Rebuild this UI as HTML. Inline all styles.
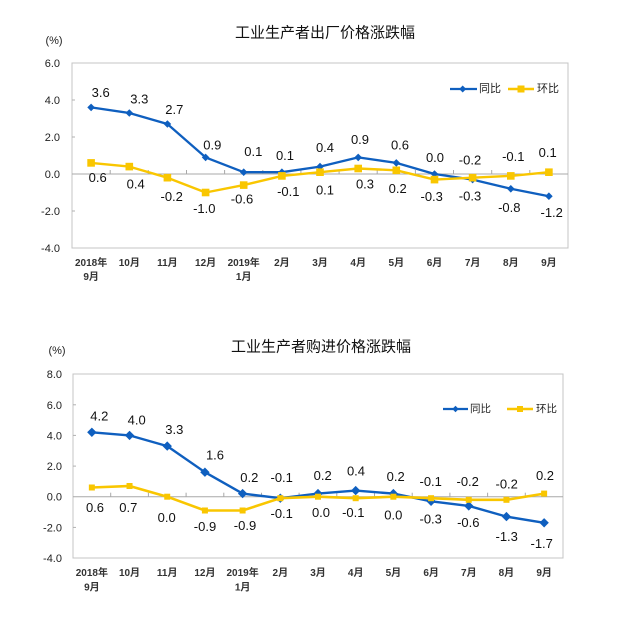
<!DOCTYPE html>
<html>
<head>
<meta charset="utf-8">
<style>
html,body{margin:0;padding:0;background:#fff;}
svg{display:block;}
.t{font-family:"Liberation Sans","Noto Sans CJK SC",sans-serif;}
</style>
</head>
<body>
<svg width="617" height="620" viewBox="0 0 617 620" xmlns="http://www.w3.org/2000/svg">
<rect width="617" height="620" fill="#fff"/>

<!-- ================= TOP CHART ================= -->
<text class="t" x="325" y="33" font-size="15" text-anchor="middle" dominant-baseline="central" fill="#111">工业生产者出厂价格涨跌幅</text>
<text class="t" x="54" y="41" font-size="11" text-anchor="middle" dominant-baseline="central" fill="#222">(%)</text>

<rect x="72" y="63" width="496" height="185" fill="none" stroke="#c4c4c4" stroke-width="1"/>
<!-- y ticks -->
<g stroke="#b0b0b0" stroke-width="1">
<line x1="72" y1="100" x2="75" y2="100"/>
<line x1="72" y1="137" x2="75" y2="137"/>
<line x1="72" y1="211" x2="75" y2="211"/>
</g>
<!-- zero line -->
<line x1="72" y1="174" x2="568" y2="174" stroke="#a8a8a8" stroke-width="1"/>
<g stroke="#a8a8a8" stroke-width="1">
<line x1="110.2" y1="170" x2="110.2" y2="174"/>
<line x1="148.3" y1="170" x2="148.3" y2="174"/>
<line x1="186.5" y1="170" x2="186.5" y2="174"/>
<line x1="224.6" y1="170" x2="224.6" y2="174"/>
<line x1="262.8" y1="170" x2="262.8" y2="174"/>
<line x1="300.9" y1="170" x2="300.9" y2="174"/>
<line x1="339.1" y1="170" x2="339.1" y2="174"/>
<line x1="377.2" y1="170" x2="377.2" y2="174"/>
<line x1="415.4" y1="170" x2="415.4" y2="174"/>
<line x1="453.5" y1="170" x2="453.5" y2="174"/>
<line x1="491.7" y1="170" x2="491.7" y2="174"/>
<line x1="529.8" y1="170" x2="529.8" y2="174"/>
</g>
<!-- y labels -->
<g class="t" font-size="11" text-anchor="end" fill="#222">
<text x="60" y="67">6.0</text>
<text x="60" y="104">4.0</text>
<text x="60" y="141">2.0</text>
<text x="60" y="178">0.0</text>
<text x="60" y="215">-2.0</text>
<text x="60" y="252">-4.0</text>
</g>
<!-- x labels -->
<g class="t" font-size="10" font-weight="bold" text-anchor="middle" fill="#333">
<text x="91.1" y="266">2018年</text>
<text x="91.1" y="280">9月</text>
<text x="129.3" y="266">10月</text>
<text x="167.4" y="266">11月</text>
<text x="205.6" y="266">12月</text>
<text x="243.7" y="266">2019年</text>
<text x="243.7" y="280">1月</text>
<text x="281.9" y="266">2月</text>
<text x="320.0" y="266">3月</text>
<text x="358.2" y="266">4月</text>
<text x="396.3" y="266">5月</text>
<text x="434.5" y="266">6月</text>
<text x="472.6" y="266">7月</text>
<text x="510.8" y="266">8月</text>
<text x="548.9" y="266">9月</text>
</g>

<!-- blue series -->
<polyline fill="none" stroke="#0f5fbf" stroke-width="2.3" stroke-linejoin="round"
points="91.1,107.4 129.3,113 167.4,124 205.6,157.4 243.7,172.2 281.9,172.2 320,166.6 358.2,157.4 396.3,162.9 434.5,174 472.6,179.6 510.8,188.8 548.9,196.2"/>
<g fill="#0f5fbf">
<path d="M91.1,103.6 L94.9,107.4 L91.1,111.2 L87.3,107.4Z"/>
<path d="M129.3,109.2 L133.1,113 L129.3,116.8 L125.5,113Z"/>
<path d="M167.4,120.2 L171.2,124 L167.4,127.8 L163.6,124Z"/>
<path d="M205.6,153.6 L209.4,157.4 L205.6,161.2 L201.8,157.4Z"/>
<path d="M243.7,168.4 L247.5,172.2 L243.7,176 L239.9,172.2Z"/>
<path d="M281.9,168.4 L285.7,172.2 L281.9,176 L278.1,172.2Z"/>
<path d="M320,162.8 L323.8,166.6 L320,170.4 L316.2,166.6Z"/>
<path d="M358.2,153.6 L362,157.4 L358.2,161.2 L354.4,157.4Z"/>
<path d="M396.3,159.1 L400.1,162.9 L396.3,166.7 L392.5,162.9Z"/>
<path d="M434.5,170.2 L438.3,174 L434.5,177.8 L430.7,174Z"/>
<path d="M472.6,175.8 L476.4,179.6 L472.6,183.4 L468.8,179.6Z"/>
<path d="M510.8,185 L514.6,188.8 L510.8,192.6 L507,188.8Z"/>
<path d="M548.9,192.4 L552.7,196.2 L548.9,200 L545.1,196.2Z"/>
</g>
<!-- yellow series -->
<polyline fill="none" stroke="#f9c600" stroke-width="2.4" stroke-linejoin="round"
points="91.1,162.9 129.3,166.6 167.4,177.7 205.6,192.5 243.7,185.1 281.9,175.9 320,172.2 358.2,168.5 396.3,170.3 434.5,179.6 472.6,177.7 510.8,175.9 548.9,172.2"/>
<g fill="#f9c600">
<rect x="87.3" y="159.1" width="7.6" height="7.6"/>
<rect x="125.5" y="162.8" width="7.6" height="7.6"/>
<rect x="163.6" y="173.9" width="7.6" height="7.6"/>
<rect x="201.8" y="188.7" width="7.6" height="7.6"/>
<rect x="239.9" y="181.3" width="7.6" height="7.6"/>
<rect x="278.1" y="172.1" width="7.6" height="7.6"/>
<rect x="316.2" y="168.4" width="7.6" height="7.6"/>
<rect x="354.4" y="164.7" width="7.6" height="7.6"/>
<rect x="392.5" y="166.5" width="7.6" height="7.6"/>
<rect x="430.7" y="175.8" width="7.6" height="7.6"/>
<rect x="468.8" y="173.9" width="7.6" height="7.6"/>
<rect x="507" y="172.1" width="7.6" height="7.6"/>
<rect x="545.1" y="168.4" width="7.6" height="7.6"/>
</g>
<!-- data labels top -->
<g class="t" font-size="13" text-anchor="middle" dominant-baseline="central" fill="#111">
<text x="100.7" y="92.7">3.6</text>
<text x="139.3" y="99">3.3</text>
<text x="174.3" y="109.3">2.7</text>
<text x="212.3" y="145">0.9</text>
<text x="253.3" y="151.7">0.1</text>
<text x="285" y="155.7">0.1</text>
<text x="325" y="147.7">0.4</text>
<text x="360" y="139.3">0.9</text>
<text x="400" y="145">0.6</text>
<text x="435" y="157.3">0.0</text>
<text x="470" y="160">-0.2</text>
<text x="513.3" y="156.7">-0.1</text>
<text x="547.7" y="152.7">0.1</text>

<text x="97.7" y="177.7">0.6</text>
<text x="135.7" y="184">0.4</text>
<text x="171.7" y="196.7">-0.2</text>
<text x="204.3" y="208.3">-1.0</text>
<text x="242" y="199">-0.6</text>
<text x="288.3" y="191.7">-0.1</text>
<text x="325" y="190">0.1</text>
<text x="365" y="184">0.3</text>
<text x="397.7" y="188.3">0.2</text>
<text x="431.7" y="196.7">-0.3</text>
<text x="470" y="196">-0.3</text>
<text x="509.3" y="207.7">-0.8</text>
<text x="551.7" y="212.3">-1.2</text>
</g>
<!-- legend top -->
<line x1="450" y1="89" x2="477" y2="89" stroke="#0f5fbf" stroke-width="2.3"/>
<path d="M462.7,85.5 L466.2,89 L462.7,92.5 L459.2,89Z" fill="#0f5fbf"/>
<text class="t" x="479" y="89" font-size="11" dominant-baseline="central" fill="#222">同比</text>
<line x1="508" y1="89" x2="534" y2="89" stroke="#f9c600" stroke-width="2.4"/>
<rect x="517.5" y="85.5" width="7" height="7" fill="#f9c600"/>
<text class="t" x="537" y="89" font-size="11" dominant-baseline="central" fill="#222">环比</text>

<!-- ================= BOTTOM CHART ================= -->
<text class="t" x="321" y="347" font-size="15" text-anchor="middle" dominant-baseline="central" fill="#111">工业生产者购进价格涨跌幅</text>
<text class="t" x="57" y="351" font-size="11" text-anchor="middle" dominant-baseline="central" fill="#222">(%)</text>

<rect x="73" y="374" width="490" height="184" fill="none" stroke="#c4c4c4" stroke-width="1"/>
<g stroke="#b0b0b0" stroke-width="1">
<line x1="73" y1="404.8" x2="76" y2="404.8"/>
<line x1="73" y1="435.4" x2="76" y2="435.4"/>
<line x1="73" y1="466.1" x2="76" y2="466.1"/>
<line x1="73" y1="527.4" x2="76" y2="527.4"/>
</g>
<line x1="73" y1="496.7" x2="563" y2="496.7" stroke="#a8a8a8" stroke-width="1"/>
<g stroke="#a8a8a8" stroke-width="1">
<line x1="110.7" y1="492.7" x2="110.7" y2="496.7"/>
<line x1="148.4" y1="492.7" x2="148.4" y2="496.7"/>
<line x1="186.1" y1="492.7" x2="186.1" y2="496.7"/>
<line x1="223.8" y1="492.7" x2="223.8" y2="496.7"/>
<line x1="261.5" y1="492.7" x2="261.5" y2="496.7"/>
<line x1="299.1" y1="492.7" x2="299.1" y2="496.7"/>
<line x1="336.8" y1="492.7" x2="336.8" y2="496.7"/>
<line x1="374.5" y1="492.7" x2="374.5" y2="496.7"/>
<line x1="412.2" y1="492.7" x2="412.2" y2="496.7"/>
<line x1="449.9" y1="492.7" x2="449.9" y2="496.7"/>
<line x1="487.6" y1="492.7" x2="487.6" y2="496.7"/>
<line x1="525.3" y1="492.7" x2="525.3" y2="496.7"/>
</g>
<g class="t" font-size="11" text-anchor="end" fill="#222">
<text x="62" y="378">8.0</text>
<text x="62" y="408.8">6.0</text>
<text x="62" y="439.4">4.0</text>
<text x="62" y="470.1">2.0</text>
<text x="62" y="500.7">0.0</text>
<text x="62" y="531.4">-2.0</text>
<text x="62" y="562">-4.0</text>
</g>
<g class="t" font-size="10" font-weight="bold" text-anchor="middle" fill="#333">
<text x="91.85" y="576">2018年</text>
<text x="91.85" y="590.5">9月</text>
<text x="129.5" y="576">10月</text>
<text x="167.2" y="576">11月</text>
<text x="204.9" y="576">12月</text>
<text x="242.6" y="576">2019年</text>
<text x="242.6" y="590.5">1月</text>
<text x="280.3" y="576">2月</text>
<text x="318" y="576">3月</text>
<text x="355.7" y="576">4月</text>
<text x="393.4" y="576">5月</text>
<text x="431.1" y="576">6月</text>
<text x="468.8" y="576">7月</text>
<text x="506.4" y="576">8月</text>
<text x="544.1" y="576">9月</text>
</g>

<polyline fill="none" stroke="#0f5fbf" stroke-width="2.4" stroke-linejoin="round"
points="91.85,432.3 129.54,435.4 167.23,446.1 204.92,472.2 242.61,493.6 280.3,498.2 317.99,493.6 355.68,490.6 393.37,493.6 431.06,501.3 468.75,505.9 506.44,516.6 544.13,522.8"/>
<g fill="#0f5fbf">
<path d="M91.85,427.6 L96.55,432.3 L91.85,437 L87.15,432.3Z"/>
<path d="M129.54,430.7 L134.24,435.4 L129.54,440.1 L124.84,435.4Z"/>
<path d="M167.23,441.4 L171.93,446.1 L167.23,450.8 L162.53,446.1Z"/>
<path d="M204.92,467.5 L209.62,472.2 L204.92,476.9 L200.22,472.2Z"/>
<path d="M242.61,488.9 L247.31,493.6 L242.61,498.3 L237.91,493.6Z"/>
<path d="M280.3,493.5 L285,498.2 L280.3,502.9 L275.6,498.2Z"/>
<path d="M317.99,488.9 L322.69,493.6 L317.99,498.3 L313.29,493.6Z"/>
<path d="M355.68,485.9 L360.38,490.6 L355.68,495.3 L350.98,490.6Z"/>
<path d="M393.37,488.9 L398.07,493.6 L393.37,498.3 L388.67,493.6Z"/>
<path d="M431.06,496.6 L435.76,501.3 L431.06,506 L426.36,501.3Z"/>
<path d="M468.75,501.2 L473.45,505.9 L468.75,510.6 L464.05,505.9Z"/>
<path d="M506.44,511.9 L511.14,516.6 L506.44,521.3 L501.74,516.6Z"/>
<path d="M544.13,518.1 L548.83,522.8 L544.13,527.5 L539.43,522.8Z"/>
</g>
<polyline fill="none" stroke="#f9c600" stroke-width="2.6" stroke-linejoin="round"
points="91.85,487.5 129.54,486 167.23,496.7 204.92,510.5 242.61,510.5 280.3,498.2 317.99,496.7 355.68,498.2 393.37,496.7 431.06,498.2 468.75,499.8 506.44,499.8 544.13,493.6"/>
<g fill="#f9c600">
<rect x="88.85" y="484.5" width="6" height="6"/>
<rect x="126.54" y="483" width="6" height="6"/>
<rect x="164.23" y="493.7" width="6" height="6"/>
<rect x="201.92" y="507.5" width="6" height="6"/>
<rect x="239.61" y="507.5" width="6" height="6"/>
<rect x="277.3" y="495.2" width="6" height="6"/>
<rect x="314.99" y="493.7" width="6" height="6"/>
<rect x="352.68" y="495.2" width="6" height="6"/>
<rect x="390.37" y="493.7" width="6" height="6"/>
<rect x="428.06" y="495.2" width="6" height="6"/>
<rect x="465.75" y="496.8" width="6" height="6"/>
<rect x="503.44" y="496.8" width="6" height="6"/>
<rect x="541.13" y="490.6" width="6" height="6"/>
</g>
<g class="t" font-size="13" text-anchor="middle" dominant-baseline="central" fill="#111">
<text x="99.3" y="416">4.2</text>
<text x="136.7" y="420">4.0</text>
<text x="174.3" y="429.3">3.3</text>
<text x="215" y="455">1.6</text>
<text x="249.3" y="477.7">0.2</text>
<text x="281.7" y="477.7">-0.1</text>
<text x="322.7" y="475.7">0.2</text>
<text x="356" y="471">0.4</text>
<text x="395.7" y="476.7">0.2</text>
<text x="430.7" y="481.7">-0.1</text>
<text x="467.7" y="481.7">-0.2</text>
<text x="506.7" y="484">-0.2</text>
<text x="545" y="475.7">0.2</text>

<text x="95" y="507.7">0.6</text>
<text x="128.3" y="507.7">0.7</text>
<text x="166.7" y="517.7">0.0</text>
<text x="205" y="526.7">-0.9</text>
<text x="245" y="525.7">-0.9</text>
<text x="281.7" y="513.3">-0.1</text>
<text x="321" y="512.7">0.0</text>
<text x="353.3" y="512.7">-0.1</text>
<text x="393.3" y="515">0.0</text>
<text x="430.7" y="519">-0.3</text>
<text x="468.3" y="522.3">-0.6</text>
<text x="506.7" y="536.7">-1.3</text>
<text x="541.7" y="543.3">-1.7</text>
</g>
<!-- legend bottom -->
<line x1="443" y1="409" x2="468" y2="409" stroke="#0f5fbf" stroke-width="2.3"/>
<path d="M455.5,405.8 L458.7,409 L455.5,412.2 L452.3,409Z" fill="#0f5fbf"/>
<text class="t" x="470" y="409" font-size="10.5" dominant-baseline="central" fill="#222">同比</text>
<line x1="507" y1="409" x2="533" y2="409" stroke="#f9c600" stroke-width="2.4"/>
<rect x="517" y="406" width="6" height="6" fill="#f9c600"/>
<text class="t" x="536" y="409" font-size="10.5" dominant-baseline="central" fill="#222">环比</text>
</svg>
</body>
</html>
